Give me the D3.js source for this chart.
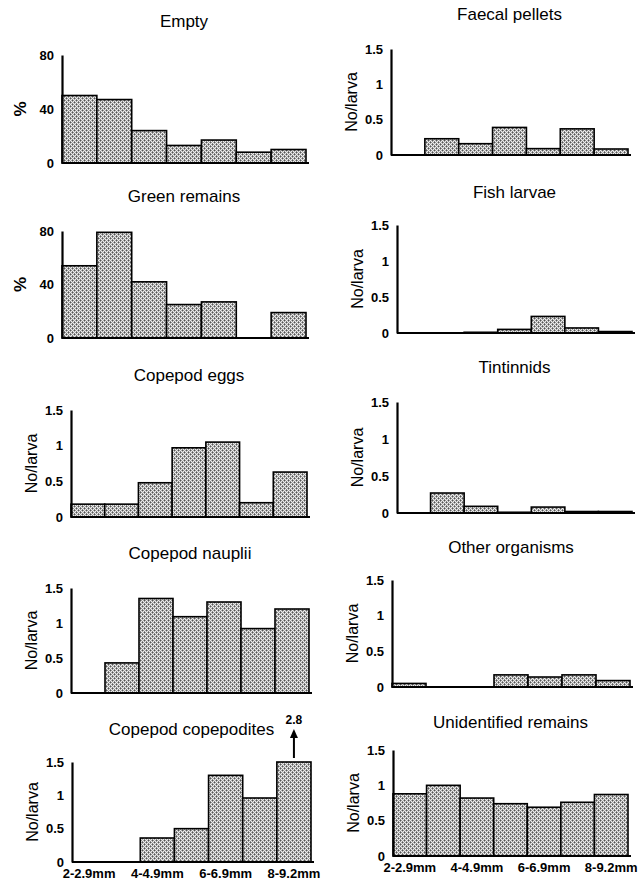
<html>
<head>
  <script src="https://d3js.org/d3.v7.min.js" charset="utf-8"></script>
  <style>
    * { margin: 0; padding: 0; }
    body { background: white; }
    svg text { font-family: "Liberation Sans", Arial, sans-serif; fill: black; }
  </style>
</head>
<body>
<div id="chart"></div>
<script>
  // size classes of the larvae (x categories)
  var sizeClasses = ["2-2.9mm", "3-3.9mm", "4-4.9mm", "5-5.9mm", "6-6.9mm", "7-7.9mm", "8-9.2mm"];
  var xTickLabels = ["2-2.9mm", "4-4.9mm", "6-6.9mm", "8-9.2mm"];

  var pctTicks = [0, 40, 80];
  var larvaTicks = [0, 0.5, 1, 1.5];

  // values
  var empty              = [50, 47, 24, 13, 17, 8, 10];
  var greenRemains       = [54, 79, 42, 25, 27, 0, 19];
  var copepodEggs        = [0.18, 0.18, 0.48, 0.97, 1.05, 0.2, 0.63];
  var copepodNauplii     = [0, 0.43, 1.35, 1.09, 1.3, 0.92, 1.2];
  var copepodCopepodites = [0, 0, 0.36, 0.5, 1.3, 0.96, 2.8];
  var faecalPellets      = [0, 0.23, 0.16, 0.39, 0.09, 0.37, 0.085];
  var fishLarvae         = [0, 0, 0.01, 0.05, 0.23, 0.07, 0.02];
  var tintinnids         = [0, 0.27, 0.09, 0.01, 0.08, 0.02, 0.02];
  var otherOrganisms     = [0.05, 0, 0, 0.17, 0.14, 0.17, 0.09];
  var unidentified       = [0.88, 1.0, 0.82, 0.74, 0.69, 0.76, 0.87];

  // panel layout (x0 = y axis, x1 = end of bars, yTop = axis top, y0 = zero line)
  var panels = [
    {title: "Empty", data: empty, unit: "%", ticks: pctTicks, x0: 62, x1: 306, yTop: 55, y0: 163, ty: 27},
    {title: "Green remains", data: greenRemains, unit: "%", ticks: pctTicks, x0: 62, x1: 306, yTop: 231, y0: 338, ty: 202},
    {title: "Copepod eggs", data: copepodEggs, unit: "No/larva", ticks: larvaTicks, x0: 71, x1: 307, yTop: 410, y0: 517, ty: 381},
    {title: "Copepod nauplii", data: copepodNauplii, unit: "No/larva", ticks: larvaTicks, x0: 71, x1: 309, yTop: 588, y0: 693, ty: 559},
    {title: "Copepod copepodites", data: copepodCopepodites, unit: "No/larva", ticks: larvaTicks, x0: 72, x1: 311, yTop: 762, y0: 862, ty: 735, xlab: 878},
    {title: "Faecal pellets", data: faecalPellets, unit: "No/larva", ticks: larvaTicks, x0: 391, x1: 628, yTop: 49, y0: 155, ty: 20},
    {title: "Fish larvae", data: fishLarvae, unit: "No/larva", ticks: larvaTicks, x0: 397, x1: 632, yTop: 225, y0: 333, ty: 198},
    {title: "Tintinnids", data: tintinnids, unit: "No/larva", ticks: larvaTicks, x0: 397, x1: 632, yTop: 402, y0: 513, ty: 373},
    {title: "Other organisms", data: otherOrganisms, unit: "No/larva", ticks: larvaTicks, x0: 392, x1: 630, yTop: 580, y0: 687, ty: 553},
    {title: "Unidentified remains", data: unidentified, unit: "No/larva", ticks: larvaTicks, x0: 393, x1: 628, yTop: 750, y0: 856, ty: 728, xlab: 872}
  ];

  var w = 643, h = 885;

  var svg = d3.select("#chart").append("svg")
      .attr("width", w)
      .attr("height", h);

  // stipple fill: light grey checker with a few dark dots
  var pat = svg.append("defs").append("pattern")
      .attr("id", "stipple")
      .attr("patternUnits", "userSpaceOnUse")
      .attr("width", 4)
      .attr("height", 4);
  pat.append("rect").attr("width", 4).attr("height", 4).attr("fill", "#ececec");
  [[1, 0, "#999"], [3, 0, "#aaa"], [0, 1, "#999"], [2, 1, "#888"], [1, 2, "#aaa"], [3, 2, "#999"], [0, 3, "#888"], [2, 3, "#aaa"],
   [0, 0, "#555"], [2, 2, "#555"]].forEach(function(q) {
    pat.append("rect").attr("x", q[0]).attr("y", q[1]).attr("width", 1).attr("height", 1).attr("fill", q[2]);
  });

  panels.forEach(function(p) {
    var max = p.ticks[p.ticks.length - 1];
    var x = d3.scaleBand().domain(sizeClasses).range([p.x0, p.x1]).padding(0);
    var y = d3.scaleLinear().domain([0, max]).range([p.y0, p.yTop]);
    var g = svg.append("g");

    // title
    g.append("text")
      .attr("x", (p.x0 + p.x1) / 2)
      .attr("y", p.ty)
      .attr("text-anchor", "middle")
      .style("font-size", "17px")
      .text(p.title);

    // unit label
    g.append("text")
      .attr("transform", "translate(" + (p.x0 - (p.unit == "%" ? 42 : 40)) + "," + ((p.y0 + p.yTop) / 2) + ") rotate(-90)")
      .attr("text-anchor", "middle")
      .attr("dy", "0.35em")
      .style("font-size", p.unit == "%" ? "17px" : "16px")
      .style("font-weight", p.unit == "%" ? "bold" : "normal")
      .text(p.unit);

    // bars
    g.selectAll("rect.bar")
      .data(p.data)
      .enter()
      .append("rect")
      .attr("class", "bar")
      .attr("x", function(d, i) { return x(sizeClasses[i]); })
      .attr("y", function(d) { return y(Math.min(d, max)); })
      .attr("width", x.bandwidth())
      .attr("height", function(d) { return p.y0 - y(Math.min(d, max)); })
      .attr("fill", "url(#stipple)")
      .attr("stroke", "black")
      .attr("stroke-width", 1.6);

    // y axis
    var ax = g.append("g")
      .attr("transform", "translate(" + p.x0 + ",0)")
      .call(d3.axisLeft(y).tickValues(p.ticks).tickSize(0).tickPadding(8)
        .tickFormat(function(d) { return d; }));
    ax.select(".domain").attr("stroke", "black").attr("stroke-width", 2.2);
    ax.selectAll("text")
      .style("font-size", "13px")
      .style("font-weight", "bold")
      .style("font-family", "'Liberation Sans', Arial, sans-serif");

    // baseline
    g.append("line")
      .attr("x1", p.x0).attr("x2", p.x1 + 3)
      .attr("y1", p.y0).attr("y2", p.y0)
      .attr("stroke", "black")
      .attr("stroke-width", 2.2);

    // size class labels on the bottom row
    if (p.xlab) {
      g.selectAll("text.xl")
        .data(xTickLabels)
        .enter()
        .append("text")
        .attr("class", "xl")
        .attr("x", function(d) { return x(d) + x.bandwidth() / 2; })
        .attr("y", p.xlab)
        .attr("text-anchor", "middle")
        .style("font-size", "13px")
        .style("font-weight", "bold")
        .text(function(d) { return d; });
    }

    // off-scale bar gets an arrow and its value
    p.data.forEach(function(d, i) {
      if (d > max) {
        var cx = x(sizeClasses[i]) + x.bandwidth() / 2;
        g.append("line")
          .attr("x1", cx).attr("x2", cx)
          .attr("y1", y(max) - 4).attr("y2", y(max) - 30)
          .attr("stroke", "black").attr("stroke-width", 2);
        g.append("path")
          .attr("d", "M" + (cx - 4) + "," + (y(max) - 24) + "L" + cx + "," + (y(max) - 33) + "L" + (cx + 4) + "," + (y(max) - 24) + "Z")
          .attr("fill", "black");
        g.append("text")
          .attr("x", cx)
          .attr("y", y(max) - 38)
          .attr("text-anchor", "middle")
          .style("font-size", "12px")
          .style("font-weight", "bold")
          .text(d);
      }
    });
  });
</script>
</body>
</html>
